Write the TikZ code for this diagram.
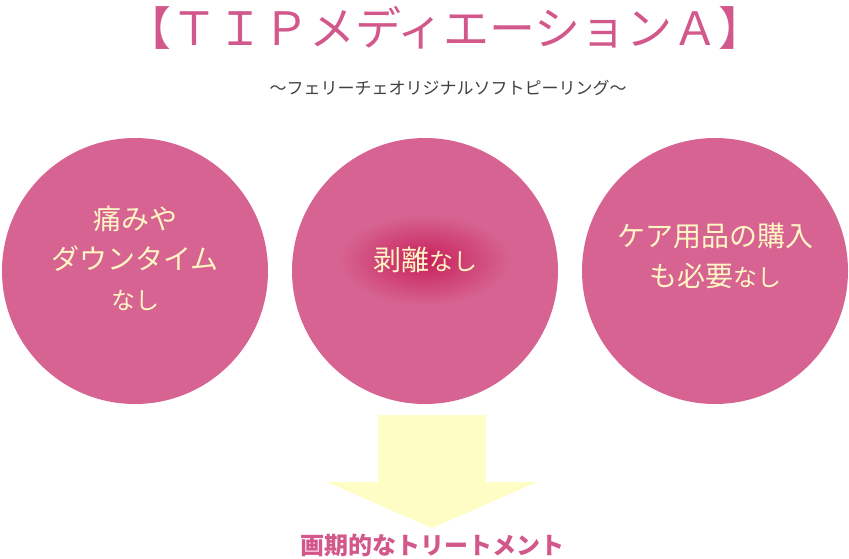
\documentclass[tikz,border=0pt]{standalone}
\usepackage{fontspec}
\setmainfont{Noto Sans CJK JP}
\begin{document}
\begin{tikzpicture}[x=1pt,y=-1pt]
\definecolor{pinkc}{HTML}{D66391}
\definecolor{titlec}{HTML}{D2588C}
\definecolor{cream}{HTML}{FFF6C4}
\definecolor{arrowc}{HTML}{FFFDC6}
\definecolor{glowc}{HTML}{C8205A}
\tikzset{circ/.style={circle,fill=pinkc,minimum size=266pt,inner sep=0pt},
  ctext/.style={text=cream,align=center,font=\fontsize{28}{40}\selectfont}}
\useasboundingbox (0,0) rectangle (849,558);
\node[text=titlec,font=\fontsize{46}{50}\selectfont] (title) at (445,28) {【ＴＩＰメディエーションＡ】};
\node[text=black!75,font=\fontsize{17}{19}\selectfont] (sub) at (448,88) {〜フェリーチェオリジナルソフトピーリング〜};
\node[circ] (c1) at (135,271) {};
\node[circ] (c2) at (425,271) {};
\node[circ] (c3) at (715,271) {};
\node[ctext] (t1) at (135,258) {痛みや\\ダウンタイム\\{\fontsize{24}{34}\selectfont なし}};
\shade[inner color=glowc,outer color=pinkc] (425,260) ellipse (85pt and 45pt);
\node[ctext] (t2) at (425,260) {剥離{\fontsize{24}{34}\selectfont なし}};
\node[ctext] (t3) at (715,256) {ケア用品の購入\\も必要{\fontsize{24}{34}\selectfont なし}};
\fill[arrowc] (378,415) rectangle (486,482);
\fill[arrowc] (327,482) -- (537,482) -- (432,528) -- cycle;
\node[text=titlec,font=\fontsize{24}{26}\selectfont\bfseries] (bottom) at (432,545) {画期的なトリートメント};
\end{tikzpicture}
\end{document}
